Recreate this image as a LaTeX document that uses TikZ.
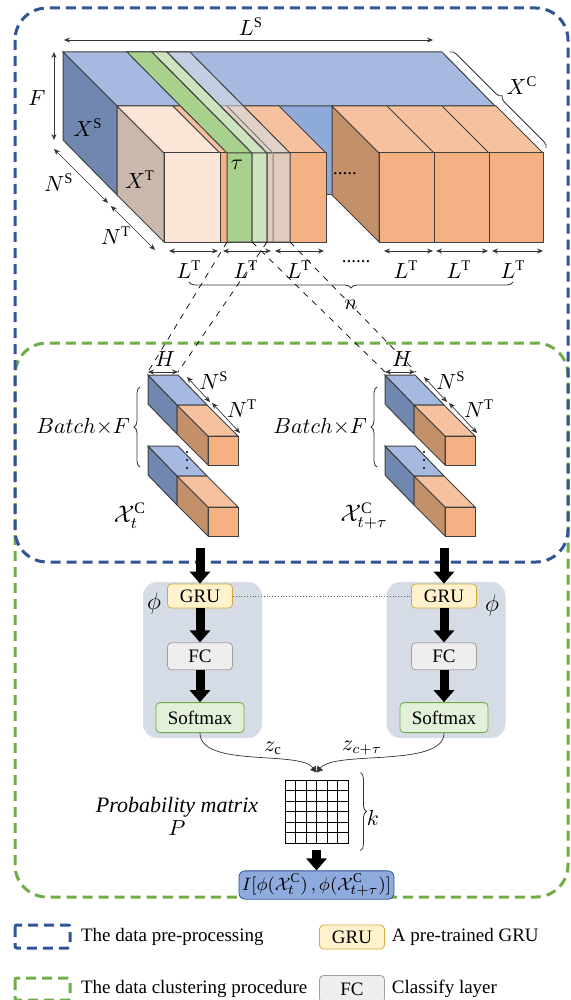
\documentclass[tikz,border=0pt]{standalone}
\usepackage{fontspec}
\setmainfont{LiberationSerif}[Extension=.ttf,
    UprightFont=*-Regular, ItalicFont=*-Italic,
    BoldFont=*-Bold, BoldItalicFont=*-BoldItalic]
\usepackage{amsmath}
\usetikzlibrary{arrows.meta,decorations.pathreplacing,positioning,calc,matrix}

\definecolor{prepColor}{RGB}{47,85,151}
\definecolor{clusColor}{RGB}{112,173,71}
\definecolor{blueTop}{RGB}{166,185,224}
\definecolor{blueSide}{RGB}{112,136,176}
\definecolor{blueFront}{RGB}{142,170,219}
\definecolor{orangeFront}{RGB}{244,177,131}
\definecolor{orangeTop}{RGB}{246,193,158}
\definecolor{orangeSide}{RGB}{196,144,106}
\definecolor{peachFront}{RGB}{251,229,214}
\definecolor{peachSide}{RGB}{201,184,171}
\definecolor{stripDark}{RGB}{169,209,142}
\definecolor{stripLight}{RGB}{205,227,190}
\definecolor{stripGrey}{RGB}{214,220,228}
\definecolor{phiColor}{RGB}{214,220,229}
\definecolor{gruFill}{RGB}{255,242,204}
\definecolor{gruDraw}{RGB}{214,170,60}
\definecolor{fcFill}{RGB}{238,238,238}
\definecolor{fcDraw}{RGB}{160,160,160}
\definecolor{softFill}{RGB}{226,240,217}
\definecolor{outFill}{RGB}{143,170,220}

\begin{document}
\begin{tikzpicture}[x=0.5pt,y=-0.5pt,font=\rmfamily\fontsize{9.5}{11}\selectfont,
face/.style={draw=black!75, line width=0.5pt},
dimarrow/.style={
    {Stealth[length=3pt,width=2.5pt]}-{Stealth[length=3pt,width=2.5pt]},
    line width=0.35pt, black!80},
bigarrow/.style={-{Triangle[length=6pt,width=10pt]}, line width=4.5pt},
curly/.style={decorate, decoration={brace, amplitude=3pt},
    line width=0.4pt, black!80},
prepbox/.style={draw=prepColor, line width=1.5pt,
    dash pattern=on 5pt off 3pt, rounded corners=16pt},
clusbox/.style={draw=clusColor, line width=1.5pt,
    dash pattern=on 5pt off 3pt, rounded corners=16pt},
block/.style={draw, rounded corners=2pt, minimum width=32.5pt,
    minimum height=12pt, inner sep=0pt},
grublock/.style={block, fill=gruFill, draw=gruDraw},
fcblock/.style={block, fill=fcFill, draw=fcDraw, minimum height=13.5pt},
softblock/.style={block, fill=softFill, draw=clusColor,
    minimum width=44pt, minimum height=15pt},
phibox/.style={fill=phiColor, rounded corners=7pt,
    minimum width=59.5pt, minimum height=78pt},
outblock/.style={draw=prepColor, fill=outFill, rounded corners=3pt,
    minimum width=75pt, minimum height=14pt, inner sep=1.5pt},
probgrid/.style={
    matrix of nodes,nodes={
        draw, minimum size=5.25pt, inner sep=0pt},
    column sep=-\pgflinewidth,
    row sep=-\pgflinewidth,
    nodes in empty cells
},
biglabel/.style={font=\fontsize{10.5}{12}\selectfont}
]
\useasboundingbox (0,0) rectangle (571,1000);

% dashed frames
\draw[clusbox] (15,343) rectangle (568,897);
\draw[prepbox] (15,8) rectangle (568,562);

% slab X^S
\filldraw[face, fill=blueFront] (117,106) rectangle (495,195);
\filldraw[face, fill=blueTop] (63,52) -- (442,52) -- (495,106) -- (117,106) -- cycle;
\filldraw[face, fill=blueSide] (63,52) -- (117,106) -- (117,195) -- (63,140) -- cycle;

% first cubes X^T
\filldraw[face, fill=peachSide] (117,106) -- (164,153) -- (164,242) -- (117,195) -- cycle;
\filldraw[face, fill=peachFront] (117,106) -- (173,106) -- (220,153) -- (164,153) -- cycle;
\filldraw[face, fill=orangeTop] (173,106) -- (279,106) -- (326,153) -- (220,153) -- cycle;
\filldraw[face, fill=peachFront] (164,153) rectangle (220,242);
\filldraw[face, fill=orangeFront] (220,153) rectangle (326,242);

% last cubes
\filldraw[face, fill=orangeSide] (332,106) -- (379,153) -- (379,242) -- (332,195) -- cycle;
\filldraw[face, fill=orangeTop] (332,106) -- (496,106) -- (543,153) -- (379,153) -- cycle;
\draw[face] (387,106) -- (434,153) (442,106) -- (489,153);
\foreach \a/\b in {379/434,434/489,489/543}
    \filldraw[face, fill=orangeFront] (\a,153) rectangle (\b,242);
\node at (345,174) {.....};

% sliding window strips
\foreach \a/\b/\c/\o in {127/152/stripDark/1, 152/167/stripLight/1, 167/190/stripGrey/0.6}
    \filldraw[face, fill=\c, fill opacity=\o]
        (\a,52) -- (\b,52) -- (\b+100,153) -- (\b+100,242)
        -- (\a+100,242) -- (\a+100,153) -- cycle
        (\a+100,153) -- (\b+100,153);
\draw[face, black!50] (227,106) -- (273,153) -- (273,242);
\coordinate (s1) at (227,242);
\coordinate (s2) at (252,242);
\coordinate (s3) at (267,242);
\coordinate (s4) at (290,242);

% dimensions of the block
\draw[dimarrow] (64,40) -- (433,40);
\node[biglabel] at (251,27) {$L^{\mathrm{S}}$};
\draw[dimarrow] (54,52) -- (54,140);
\node[biglabel] at (37,98) {$F$};
\draw[dimarrow] (54,149) -- (108,203);
\draw[dimarrow] (111,206) -- (155,250);
\node[biglabel] at (59,183) {$N^{\mathrm{S}}$};
\node[biglabel] at (116,236) {$N^{\mathrm{T}}$};
\node[biglabel] at (88,128) {$X^{\mathrm{S}}$};
\node[biglabel] at (140,180) {$X^{\mathrm{T}}$};
\node[biglabel] at (237,165) {$\tau$};
\draw[curly] (450,52) -- (546,148);
\node[biglabel] at (522,86) {$X^{\mathrm{C}}$};

\foreach \a/\b in {169/218,223/271,275/324,384/433,436/488,492/543}
    \draw[dimarrow] (\a,251) -- (\b,251);
\foreach \x in {189,246,299,406,459,513}
    \node[biglabel] at (\x,270) {$L^{\mathrm{T}}$};
\node at (356,262) {......};
\draw[curly] (513,282) -- (189,282);
\node[biglabel] at (351,305) {$n$};

% batches
\foreach \px in {148,385}{
    \foreach \py in {446,375}{
        \begin{scope}[shift={(\px,\py)}]
            \filldraw[face, fill=blueSide] (0,0) -- (29,30) -- (29,59) -- (0,29) -- cycle;
            \filldraw[face, fill=blueTop] (0,0) -- (30,0) -- (59,30) -- (29,30) -- cycle;
            \filldraw[face, fill=orangeSide] (29,30) -- (60,61) -- (60,90) -- (29,59) -- cycle;
            \filldraw[face, fill=orangeTop] (29,30) -- (59,30) -- (90,61) -- (60,61) -- cycle;
            \filldraw[face, fill=orangeFront] (60,61) rectangle (90,90);
        \end{scope}
    }
    \foreach \k in {0,1,2}
        \fill (\px+39,452+\k*8) circle (0.6pt);
    \draw[dimarrow] (\px,372) -- (\px+30,372);
    \node[biglabel] at (\px+17,359) {$H$};
    \draw[dimarrow] (\px+39,377) -- (\px+62,402);
    \draw[dimarrow] (\px+64,403) -- (\px+92,433);
    \node[biglabel] at (\px+66,381) {$N^{\mathrm{S}}$};
    \node[biglabel] at (\px+94,409) {$N^{\mathrm{T}}$};
    \draw[curly] (\px-8,467) -- (\px-8,387);
}
\coordinate (hl1) at (148,372);
\coordinate (hl2) at (178,372);
\coordinate (hr1) at (385,372);
\coordinate (hr2) at (416,372);
\foreach \from/\to in {s1/hl1, s3/hl2, s2/hr1, s4/hr2}
    \draw[dashed, line width=0.35pt] (\from) -- (\to);

\node[anchor=east, biglabel] at (137,427) {$Batch{\times}F$};
\node[anchor=east, biglabel] at (374,427) {$Batch{\times}F$};
\node[font=\fontsize{12}{14}\selectfont] at (130,516) {$\mathcal{X}_t^{\mathrm{C}}$};
\node[font=\fontsize{12}{14}\selectfont] at (364,516) {$\mathcal{X}_{t+\tau}^{\mathrm{C}}$};

% encoders
\node[phibox] (phiL) at (202.5,660) {};
\node[phibox] (phiR) at (446,660) {};
\node[grublock] (gruL) at (200,596) {GRU};
\node[fcblock, below=17pt of gruL] (fcL) {FC};
\node[softblock, below=16pt of fcL] (softL) {Softmax};
\node[grublock] (gruR) at (444,596) {GRU};
\node[fcblock, below=17pt of gruR] (fcR) {FC};
\node[softblock, below=16pt of fcR] (softR) {Softmax};
\node[font=\fontsize{12}{14}\selectfont] at (154,603) {$\phi$};
\node[font=\fontsize{12}{14}\selectfont] at (492,605) {$\phi$};

\coordinate (inL) at (200,548);
\coordinate (inR) at (444,548);
\foreach \from/\to in {inL/gruL, gruL/fcL, fcL/softL, inR/gruR, gruR/fcR, fcR/softR}
    \draw [bigarrow] (\from)--(\to);
\draw[densely dotted, black!60] (gruL) -- (gruR);

% probability matrix
\matrix[probgrid] (P) at (316.5,811.5) {
 &&&&& \\
 &&&&& \\
 &&&&& \\
 &&&&& \\
 &&&&& \\
 &&&&& \\
};
\draw[line width=0.35pt, black!80, -{Triangle[length=3pt,width=3.5pt]}]
    (softL.south) .. controls (200,768) and (300,750) .. (P.north);
\draw[line width=0.35pt, black!80, -{Triangle[length=3pt,width=3.5pt]}]
    (softR.south) .. controls (444,768) and (335,750) .. (P.north);
\node[biglabel] at (273,748) {$z_{\mathrm{c}}$};
\node[biglabel] at (362,748) {$z_{c+\tau}$};
\draw[curly] ($(P.north east)+(5,0)$) -- ($(P.south east)+(5,0)$);
\node[biglabel] at (373,818) {$k$};
\node[align=center, font=\rmfamily\fontsize{11}{11.5}\selectfont\itshape] at (177,816)
    {Probability matrix\\$P$};

\node[outblock, below=10pt of P] (out)
    {$I[\phi(\mathcal{X}_t^{\mathrm{C}})\,,\phi(\mathcal{X}_{t+\tau}^{\mathrm{C}})]$};
\draw[bigarrow] (P) -- (out);

% legend
\draw[prepbox, rounded corners=1pt] (15,925) rectangle (70,948);
\node[anchor=west] (legPrep) at (74,937) {The data pre-processing};
\draw[clusbox, rounded corners=1pt] (15,978) rectangle (70,1000);
\node[anchor=west] (legClus) at (74,989) {The data clustering procedure};
\node[grublock] (legGru) at (352,937) {GRU};
\node[anchor=west] at (legGru.east) {A pre-trained GRU};
\node[fcblock] (legFc) at (352,989) {FC};
\node[anchor=west] at (legFc.east) {Classify layer};

\end{tikzpicture}
\end{document}
